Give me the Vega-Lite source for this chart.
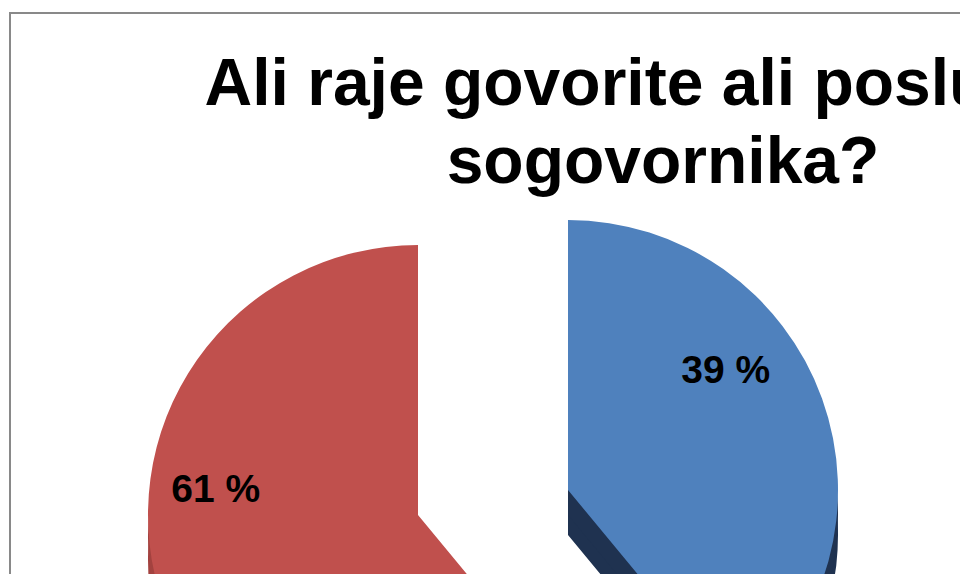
{
  "$schema": "https://vega.github.io/schema/vega-lite/v6.json",
  "width": 976,
  "height": 974,
  "autosize": {"type": "none"},
  "padding": {"left": 10, "top": 13, "right": 0, "bottom": 0},
  "background": "white",
  "view": {"stroke": "#898989", "strokeWidth": 2},
  "title": {
    "text": ["Ali raje govorite ali poslušate", "sogovornika?"],
    "font": "Liberation Sans",
    "fontSize": 66,
    "fontWeight": "bold",
    "color": "#000000",
    "anchor": "middle",
    "dx": 165,
    "offset": -237,
    "baseline": "alphabetic",
    "lineHeight": 78,
    "orient": "top",
    "frame": "group"
  },
  "data": {
    "values": [
      {"answer": "Govorim", "value": 39, "label": "39 %", "order": 1},
      {"answer": "Poslušam", "value": 61, "label": "61 %", "order": 2}
    ]
  },
  "transform": [
    {"stack": "value", "groupby": [], "sort": [{"field": "order", "order": "ascending"}], "as": ["v0", "v1"]}
  ],
  "layer": [
    {"transform": [{"filter": "datum.order === 1"}], "mark": {"type": "rect", "fill": null, "stroke": "#898989", "strokeWidth": 2}, "encoding": {}},
    {"transform": [{"filter": "datum.order === 1"}], "mark": {"type": "arc", "radius": 270, "xOffset": 70, "yOffset": 35, "fill": "#1F3250"},
     "encoding": {"theta": {"field": "v0", "type": "quantitative", "stack": null, "scale": {"domain": [0, 100]}}, "theta2": {"field": "v1"}}},
    {"transform": [{"filter": "datum.order === 1"}], "mark": {"type": "arc", "radius": 270, "xOffset": 70, "yOffset": 15, "fill": "#1F3250"},
     "encoding": {"theta": {"field": "v0", "type": "quantitative", "stack": null}, "theta2": {"field": "v1"}}},
    {"transform": [{"filter": "datum.order === 2"}], "mark": {"type": "arc", "radius": 270, "xOffset": -80, "yOffset": 60, "fill": "#A3423F"},
     "encoding": {"theta": {"field": "v0", "type": "quantitative", "stack": null}, "theta2": {"field": "v1"}}},
    {"transform": [{"filter": "datum.order === 2"}], "mark": {"type": "arc", "radius": 270, "xOffset": -80, "yOffset": 38, "fill": "#A3423F"},
     "encoding": {"theta": {"field": "v0", "type": "quantitative", "stack": null}, "theta2": {"field": "v1"}}},
    {"transform": [{"filter": "datum.order === 1"}], "mark": {"type": "arc", "radius": 270, "xOffset": 70, "yOffset": -10, "fill": "#4F81BD"},
     "encoding": {"theta": {"field": "v0", "type": "quantitative", "stack": null}, "theta2": {"field": "v1"}}},
    {"transform": [{"filter": "datum.order === 2"}], "mark": {"type": "arc", "radius": 270, "xOffset": -80, "yOffset": 15, "fill": "#C0504D"},
     "encoding": {"theta": {"field": "v0", "type": "quantitative", "stack": null}, "theta2": {"field": "v1"}}},
    {
      "mark": {"type": "text", "radius": 190, "xOffset": 49, "yOffset": -65, "font": "Liberation Sans", "fontSize": 39, "fontWeight": "bold", "color": "#000000"},
      "encoding": {
        "theta": {"field": "value", "type": "quantitative", "stack": true},
        "order": {"field": "order"},
        "text": {"condition": {"test": "datum.order === 1", "field": "label"}, "value": ""}
      }
    },
    {
      "mark": {"type": "text", "radius": 200, "xOffset": -94, "yOffset": -78, "font": "Liberation Sans", "fontSize": 39, "fontWeight": "bold", "color": "#000000"},
      "encoding": {
        "theta": {"field": "value", "type": "quantitative", "stack": true},
        "order": {"field": "order"},
        "text": {"condition": {"test": "datum.order === 2", "field": "label"}, "value": ""}
      }
    }
  ]
}
